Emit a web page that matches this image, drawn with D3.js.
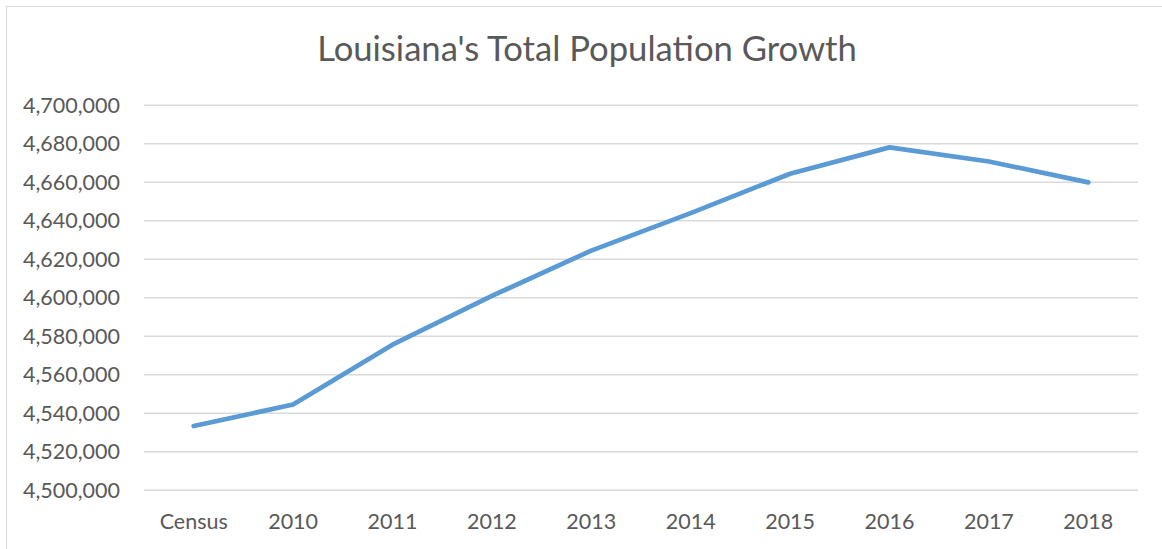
<!DOCTYPE html>
<html>
<head>
<meta charset="utf-8">
<script src="https://cdn.jsdelivr.net/npm/d3@7"></script>
<style>
  html, body { margin: 0; padding: 0; background: #fff; }
  svg { display: block; }
  text { font-family: Lato, "Open Sans", sans-serif; fill: #595959; }
</style>
</head>
<body>
<svg id="chart" width="1162" height="549"></svg>
<script>
const categories = ["Census", "2010", "2011", "2012", "2013", "2014", "2015", "2016", "2017", "2018"];
const population = [4533372, 4544532, 4575625, 4600972, 4624527, 4644013, 4664450, 4678135, 4670818, 4659978];
const yTicks = [4500000, 4520000, 4540000, 4560000, 4580000, 4600000, 4620000, 4640000, 4660000, 4680000, 4700000];
const title = "Louisiana's Total Population Growth";

const W = 1162, H = 549;
const margin = { left: 144, right: 24, top: 105.3, bottom: 58.7 };
const svg = d3.select("#chart");

// chart border
svg.append("rect")
  .attr("x", 6.5).attr("y", 6.5)
  .attr("width", 1170).attr("height", 560)
  .attr("fill", "none").attr("stroke", "#d9d9d9").attr("stroke-width", 1);

const x = d3.scaleBand().domain(categories).range([margin.left, W - margin.right]);
const y = d3.scaleLinear().domain([4500000, 4700000]).range([H - margin.bottom, margin.top]);

// gridlines
svg.append("g").selectAll("line").data(yTicks).join("line")
  .attr("x1", margin.left).attr("x2", W - margin.right)
  .attr("y1", d => y(d)).attr("y2", d => y(d))
  .attr("stroke", "#d9d9d9").attr("stroke-width", 1.4);

// y axis labels
const fmt = d3.format(",");
const yAxis = d3.axisLeft(y).tickValues(yTicks).tickFormat(fmt).tickSize(0).tickPadding(24);
const yg = svg.append("g").attr("transform", `translate(${margin.left},0)`).call(yAxis);
yg.select(".domain").remove();
yg.selectAll("text").attr("font-size", 21.5).attr("fill", "#595959")
  .style("font-family", "Lato, 'Open Sans', sans-serif");

// x axis labels
const xAxis = d3.axisBottom(x).tickSize(0).tickPadding(23);
const xg = svg.append("g").attr("transform", `translate(0,${H - margin.bottom})`).call(xAxis);
xg.select(".domain").remove();
xg.selectAll("text").attr("font-size", 21.5).attr("fill", "#595959")
  .style("font-family", "Lato, 'Open Sans', sans-serif");

// line
const line = d3.line()
  .x((d, i) => x(categories[i]) + x.bandwidth() / 2)
  .y(d => y(d));
svg.append("path").datum(population)
  .attr("d", line)
  .attr("fill", "none")
  .attr("stroke", "#5b9bd5")
  .attr("stroke-width", 4.7)
  .attr("stroke-linecap", "round")
  .attr("stroke-linejoin", "round");

// title
const t = svg.append("text")
  .attr("x", 587).attr("y", 61)
  .attr("text-anchor", "middle")
  .attr("font-size", 30)
  .attr("fill", "#595959")
  .text(title);
const w = t.node().getComputedTextLength();
t.attr("font-size", 30 * 540 / w);
</script>
</body>
</html>
